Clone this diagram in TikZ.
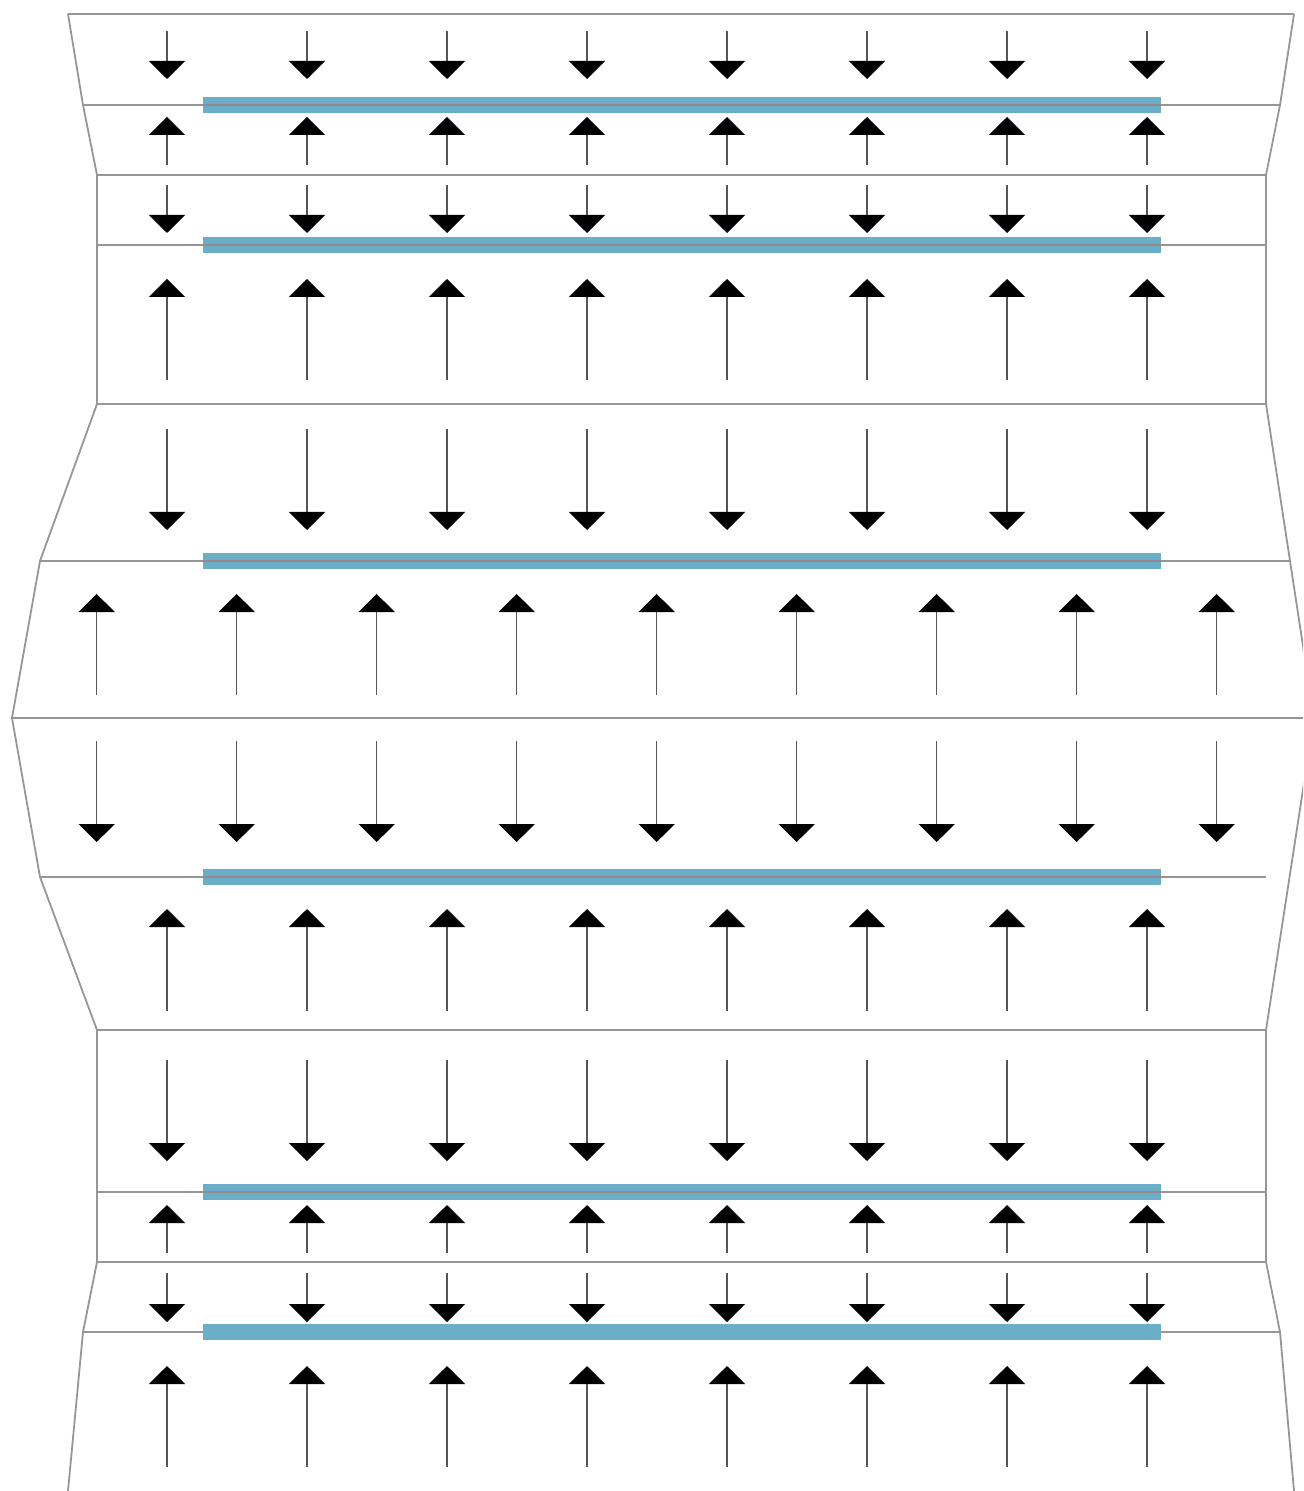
\documentclass[tikz,border=0pt]{standalone}
\usetikzlibrary{arrows.meta}
\definecolor{framegray}{RGB}{150,150,150}
\definecolor{barblue}{RGB}{107,174,200}
\definecolor{shaftgray}{RGB}{85,85,85}
\definecolor{midgray}{RGB}{152,136,142}
\begin{document}
\begin{tikzpicture}[x=0.5pt,y=-0.5pt,
  frameline/.style={draw=framegray,line width=0.9pt,line join=miter},
  barstrip/.style={draw=barblue,line width=8.3pt},
  midstrip/.style={draw=midgray,line width=0.9pt},
  force/.style={draw=shaftgray,line width=0.6pt,-{Triangle[length=9pt,width=18pt,color=black]}}]
\useasboundingbox (0,0) rectangle (1303,1491);
\clip (0,0) rectangle (1303,1491);
% boundaries
\draw[frameline] (68,14)--(83,105)--(97,175)--(97,404)--(40,561)--(12,718)--(40,877)--(97,1030)--(97,1262)--(83,1332)--(68,1491);
\draw[frameline] (1294,14)--(1280,105)--(1266,175)--(1266,404)--(1314,718)--(1266,1030)--(1266,1262)--(1280,1332)--(1294,1491);
% horizontal layer lines
\foreach \y/\xa/\xb in {14/68/1294,105/83/1280,175/97/1266,245/97/1266,404/97/1266,561/40/1290,718/12/1314,877/40/1266,1030/97/1266,1192/97/1266,1262/97/1266,1332/83/1280}
  \draw[frameline] (\xa,\y)--(\xb,\y);
% blue strips
\foreach \y in {105,245,561,877,1192,1332}
  \draw[barstrip] (203,\y)--(1161,\y);
\foreach \y in {105,245,561,877,1192}
  \draw[midstrip] (203,\y)--(1161,\y);
% arrows, columns A
\foreach \ya/\yb in {31/79,165/117,185/233,380/279,429/530,1011/909,1060/1161,1253/1205,1273/1322,1467/1366}
  \foreach \k in {0,...,7}
    \draw[force] (167+140*\k,\ya)--(167+140*\k,\yb);
% arrows, columns B
\foreach \ya/\yb in {695/594,741/842}
  \foreach \k in {0,...,8}
    \draw[force] (96.7+140*\k,\ya)--(96.7+140*\k,\yb);
\end{tikzpicture}
\end{document}
